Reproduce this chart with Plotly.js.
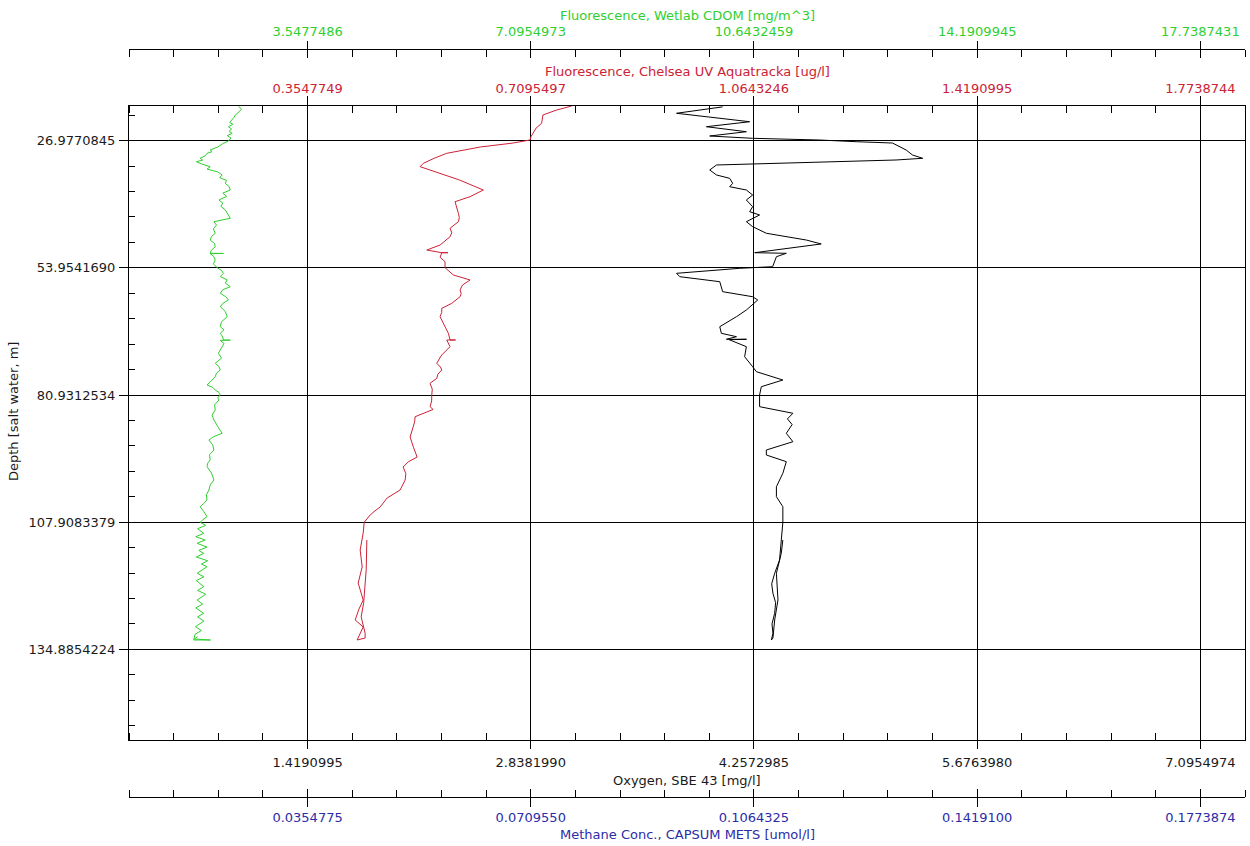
<!DOCTYPE html>
<html>
<head>
<meta charset="utf-8">
<script src="https://cdn.plot.ly/plotly-3.0.1.min.js"></script>
<style>
  html, body { margin: 0; padding: 0; background: #ffffff; }
  #chart { width: 1250px; height: 846px; }
</style>
</head>
<body>
<div id="chart"></div>
<script>
// ---------------- data ----------------
// Oxygen, SBE 43 [mg/l] vs depth [m]
const oxygenDepth = [19.80, 21.16, 22.95, 24.01, 25.07, 25.98, 26.47, 26.83, 27.19, 27.47, 28.95, 30.01, 30.71, 31.07,
  32.13, 33.19, 34.25, 34.96, 36.02, 36.74, 37.44, 38.50, 39.56, 40.98, 42.04, 42.74, 44.16, 45.22, 46.62, 48.05,
  48.89, 50.17, 50.74, 50.87, 51.59, 53.71, 54.05, 55.11, 55.83, 56.89, 59.01, 60.08, 60.78, 62.90, 64.32, 66.44,
  67.84, 68.56, 69.11, 69.11, 69.20, 70.68, 72.81, 74.93, 75.99, 77.75, 79.17, 80.93, 82.35, 83.41, 84.81, 86.00,
  87.20, 89.06, 90.84, 92.60, 93.66, 95.08, 97.54, 100.39, 102.51, 104.63, 107.94, 111.70, 115.94, 118.76, 121.00,
  123.00, 125.00, 127.25, 129.50, 131.49, 132.91, 132.50, 128.67, 124.42, 118.76, 114.52, 111.70];
const oxygenValue = [4.058, 3.765, 4.230, 3.955, 4.209, 3.976, 4.249, 4.674, 4.907, 5.138, 5.225, 5.265, 5.330, 5.161,
  4.019, 3.976, 4.019, 4.103, 4.122, 4.103, 4.209, 4.249, 4.209, 4.249, 4.230, 4.293, 4.209, 4.249, 4.336, 4.590,
  4.685, 4.376, 4.262, 4.463, 4.400, 4.376, 4.167, 3.765, 3.786, 4.040, 4.058, 4.249, 4.281, 4.209, 4.146, 4.040,
  4.050, 4.146, 4.082, 4.210, 4.100, 4.209, 4.198, 4.249, 4.273, 4.441, 4.304, 4.293, 4.293, 4.293, 4.505, 4.470,
  4.500, 4.463, 4.505, 4.336, 4.336, 4.463, 4.441, 4.400, 4.400, 4.441, 4.441, 4.431, 4.420, 4.389, 4.370,
  4.378, 4.395, 4.389, 4.372, 4.378, 4.368, 4.378, 4.389, 4.410, 4.400, 4.431, 4.441];

// Fluorescence, Chelsea UV Aquatracka [ug/l] vs depth [m]
const chelseaDepth = [19.62, 20.50, 21.52, 22.40, 23.29, 24.30, 25.34, 26.10, 26.83, 27.50, 28.30, 29.31, 29.65, 30.70,
  31.77, 32.49, 33.19, 35.30, 37.44, 38.86, 39.92, 41.00, 42.38, 43.30, 44.16, 45.56, 46.50, 47.35, 48.30, 49.11,
  50.17, 50.74, 50.74, 50.74, 51.72, 52.65, 53.92, 54.70, 55.47, 56.53, 57.60, 58.65, 59.40, 60.08, 61.48, 62.54,
  63.40, 64.32, 65.40, 66.44, 67.84, 69.26, 69.26, 69.26, 70.68, 71.60, 72.44, 73.30, 74.21, 75.00, 75.63, 76.50,
  77.39, 78.45, 79.70, 80.93, 82.20, 83.41, 84.00, 85.54, 86.60, 87.72, 88.80, 89.84, 92.00, 94.09, 95.10, 96.21,
  97.60, 98.97, 100.00, 101.09, 102.78, 103.70, 104.69, 105.50, 106.39, 107.94, 110.21, 113.82, 117.42, 120.82,
  124.43, 126.50, 128.67, 130.15, 132.91, 132.50, 131.49, 128.00, 125.00, 118.00, 111.70];
const chelseaValue = [0.7745, 0.7500, 0.7289, 0.7280, 0.7268, 0.7180, 0.7130, 0.7100, 0.7083, 0.6800, 0.6300, 0.5860,
  0.5760, 0.5560, 0.5389, 0.5337, 0.5495, 0.5960, 0.6341, 0.6130, 0.5892, 0.5920, 0.5945, 0.5960, 0.5945, 0.5813,
  0.5840, 0.5813, 0.5730, 0.5654, 0.5443, 0.5681, 0.5780, 0.5681, 0.5654, 0.5733, 0.5733, 0.5800, 0.5865, 0.6130,
  0.6010, 0.5972, 0.5990, 0.5972, 0.5840, 0.5681, 0.5680, 0.5654, 0.5700, 0.5733, 0.5786, 0.5813, 0.5900, 0.5760,
  0.5813, 0.5740, 0.5681, 0.5640, 0.5602, 0.5660, 0.5681, 0.5620, 0.5602, 0.5495, 0.5530, 0.5522, 0.5520, 0.5495,
  0.5543, 0.5257, 0.5250, 0.5226, 0.5200, 0.5178, 0.5230, 0.5289, 0.5150, 0.5067, 0.5110, 0.5099, 0.5060, 0.5019,
  0.4813, 0.4760, 0.4702, 0.4620, 0.4543, 0.4448, 0.4432, 0.4384, 0.4416, 0.4352, 0.4432, 0.4360, 0.4305, 0.4432,
  0.4336, 0.4463, 0.4463, 0.4400, 0.4440, 0.4480, 0.4490];

// Fluorescence, Wetlab CDOM [mg/m^3] vs depth [m]
const cdomDepth = [19.70, 20.30, 20.82, 21.20, 21.52, 22.00, 22.59, 23.10, 23.50, 24.01, 24.50, 25.00, 25.41, 25.90,
  26.40, 27.04, 27.60, 28.30, 28.95, 29.30, 29.65, 30.20, 30.71, 31.10, 31.43, 31.90, 32.49, 33.00, 33.60, 34.25,
  34.80, 35.40, 36.02, 36.70, 37.44, 38.10, 38.80, 39.56, 40.20, 40.90, 41.68, 42.50, 43.44, 44.16, 44.90, 45.70,
  46.62, 47.30, 48.05, 48.80, 49.47, 50.20, 50.87, 50.90, 50.95, 51.60, 52.29, 53.10, 53.92, 54.50, 55.11, 55.80,
  56.50, 57.20, 57.95, 58.60, 59.35, 60.10, 60.78, 61.50, 62.20, 63.20, 64.32, 65.40, 66.44, 67.10, 67.84, 68.60,
  69.26, 69.30, 69.35, 70.00, 70.68, 71.40, 72.08, 73.10, 74.21, 74.90, 75.63, 76.30, 77.05, 77.90, 78.81, 79.30,
  79.87, 80.40, 80.93, 81.50, 81.99, 83.00, 84.11, 85.20, 86.24, 87.60, 89.06, 89.80, 90.48, 91.50, 92.60, 93.60,
  94.72, 95.40, 96.14, 97.50, 98.97, 100.00, 101.09, 102.10, 103.21, 103.90, 104.63, 105.70, 106.75, 107.40,
  107.94, 108.60, 109.30, 110.28, 111.00, 111.70, 112.40, 113.20, 113.90, 114.52, 115.30, 116.10, 116.80, 117.36,
  118.76, 119.50, 120.30, 121.60, 122.40, 123.20, 124.43, 125.30, 126.10, 127.25, 128.00, 128.90, 130.09, 130.90,
  131.70, 132.91, 132.91, 132.70, 132.20];
const cdomValue = [2.45, 2.50, 2.46, 2.43, 2.40, 2.38, 2.35, 2.31, 2.36, 2.29, 2.34, 2.30, 2.35, 2.27,
  2.33, 2.29, 2.20, 2.12, 2.00, 2.03, 1.95, 1.92, 1.84, 1.88, 1.78, 1.86, 2.00, 1.95, 2.12, 2.19,
  2.15, 2.26, 2.24, 2.30, 2.32, 2.20, 2.26, 2.14, 2.20, 2.17, 2.24, 2.28, 2.32, 2.06, 2.10, 2.05,
  2.08, 2.02, 2.00, 2.07, 2.08, 2.02, 2.00, 2.21, 2.00, 2.06, 2.08, 2.05, 2.11, 2.18, 2.21, 2.16,
  2.27, 2.24, 2.32, 2.20, 2.16, 2.25, 2.29, 2.20, 2.16, 2.24, 2.27, 2.18, 2.16, 2.22, 2.16, 2.20,
  2.21, 2.32, 2.16, 2.22, 2.19, 2.15, 2.13, 2.18, 2.08, 2.14, 2.16, 2.10, 2.08, 2.02, 1.95, 2.04,
  2.08, 2.14, 2.16, 2.12, 2.14, 2.07, 2.08, 2.03, 2.06, 2.12, 2.19, 2.05, 1.98, 2.04, 2.06, 1.99,
  2.00, 1.96, 1.95, 2.02, 2.06, 2.00, 1.98, 1.94, 1.95, 1.90, 1.84, 1.90, 1.95, 1.88,
  1.844, 1.930, 1.800, 1.897, 1.770, 1.920, 1.792, 1.950, 1.820, 1.897, 1.780, 1.960, 1.860, 1.951,
  1.792, 1.900, 1.780, 1.897, 1.800, 1.930, 1.792, 1.880, 1.770, 1.897, 1.800, 1.900, 1.765, 1.860,
  1.760, 1.738, 2.003, 1.750, 1.800];

// ---------------- axis tick labels ----------------
const depthTicks = [26.9770845, 53.9541690, 80.9312534, 107.9083379, 134.8854224];
const depthTickText = ['26.9770845', '53.9541690', '80.9312534', '107.9083379', '134.8854224'];
const oxygenTicks = [1.4190995, 2.8381990, 4.2572985, 5.6763980, 7.0954974];
const oxygenTickText = ['1.4190995', '2.8381990', '4.2572985', '5.6763980', '7.0954974'];
const chelseaTicks = [0.3547749, 0.7095497, 1.0643246, 1.4190995, 1.7738744];
const chelseaTickText = ['0.3547749', '0.7095497', '1.0643246', '1.4190995', '1.7738744'];
const cdomTicks = [3.5477486, 7.0954973, 10.6432459, 14.1909945, 17.7387431];
const cdomTickText = ['3.5477486', '7.0954973', '10.6432459', '14.1909945', '17.7387431'];
const methaneTicks = [0.0354775, 0.0709550, 0.1064325, 0.1419100, 0.1773874];
const methaneTickText = ['0.0354775', '0.0709550', '0.1064325', '0.1419100', '0.1773874'];

// axis ranges
const depthRange = [154.13, 19.615];
const oxygenRange = [0.2838199, 7.3793173];
const chelseaRange = [0.0709550, 1.8448293];
const cdomRange = [0.7095497, 18.4482928];
const methaneRange = [0.0070955, 0.1844829];

// ---------------- styling ----------------
const FONT = 'DejaVu Sans, Arial, sans-serif';
const GREEN = '#2fcf2f';
const RED = '#cc2236';
const BLUE = '#2c2ca8';
const BLACK = '#000000';
const TEXT = '#1a1a1a';

// plot area spans 106..740 px vertically; margins t=b=40 -> paper height 766
function paperY(px) { return (806 - px) / 766; }
function paperX(px) { return (px - 129) / 1116; }
const yDom = [paperY(740), paperY(106)];

const traces = [
  { x: cdomValue, y: cdomDepth, xaxis: 'x3', yaxis: 'y', type: 'scatter', mode: 'lines',
    line: { color: GREEN, width: 1 }, name: 'CDOM' },
  { x: chelseaValue, y: chelseaDepth, xaxis: 'x2', yaxis: 'y', type: 'scatter', mode: 'lines',
    line: { color: RED, width: 1 }, name: 'Chelsea' },
  { x: oxygenValue, y: oxygenDepth, xaxis: 'x', yaxis: 'y', type: 'scatter', mode: 'lines',
    line: { color: BLACK, width: 1 }, name: 'Oxygen' },
  { x: [], y: [], xaxis: 'x4', yaxis: 'y', type: 'scatter', mode: 'lines', showlegend: false },
  { x: [], y: [], xaxis: 'x5', yaxis: 'y', type: 'scatter', mode: 'lines', showlegend: false },
  { x: [], y: [], xaxis: 'x6', yaxis: 'y', type: 'scatter', mode: 'lines', showlegend: false }
];

function baseX(extra) {
  return Object.assign({
    showgrid: false, zeroline: false, fixedrange: true,
    tickmode: 'array', tickcolor: BLACK, tickwidth: 1,
    linecolor: BLACK, linewidth: 1
  }, extra);
}

function titleNote(text, color, px) {
  return { text: text, xref: 'paper', yref: 'paper', x: 0.5, y: paperY(px),
    xanchor: 'center', yanchor: 'middle', showarrow: false,
    font: { family: FONT, size: 13, color: color } };
}

const layout = {
  width: 1250, height: 846,
  margin: { l: 129, r: 5, t: 40, b: 40, pad: 0 },
  paper_bgcolor: '#ffffff', plot_bgcolor: '#ffffff',
  showlegend: false,
  font: { family: FONT, size: 13, color: TEXT },
  yaxis: {
    domain: yDom, range: depthRange, autorange: false,
    tickmode: 'array', tickvals: depthTicks, ticktext: depthTickText,
    ticks: 'outside', ticklen: 9, tickcolor: BLACK, tickwidth: 1, ticklabelstandoff: 1,
    minor: { ticks: 'inside', ticklen: 6, dtick: 5.3954169, tick0: 0, tickcolor: BLACK, showgrid: false },
    showgrid: true, gridcolor: BLACK, gridwidth: 1,
    showline: true, linecolor: BLACK, linewidth: 1, mirror: true,
    zeroline: false, fixedrange: true,
    tickfont: { family: FONT, size: 13, color: TEXT }
  },
  xaxis: baseX({
    range: oxygenRange, anchor: 'y', side: 'bottom',
    tickvals: oxygenTicks, ticktext: oxygenTickText,
    ticks: 'outside', ticklen: 8, ticklabelstandoff: 2,
    minor: { ticks: 'inside', ticklen: 7, dtick: 0.2838199, tick0: 0, tickcolor: BLACK, showgrid: false },
    showgrid: true, gridcolor: BLACK, gridwidth: 1,
    showline: true, mirror: false,
    tickfont: { family: FONT, size: 13, color: TEXT }
  }),
  xaxis2: baseX({
    range: chelseaRange, anchor: 'y', overlaying: 'x', side: 'top',
    tickvals: chelseaTicks, ticktext: chelseaTickText,
    ticks: 'outside', ticklen: 9, ticklabelstandoff: -2,
    minor: { ticks: 'inside', ticklen: 7, dtick: 0.07095498, tick0: 0, tickcolor: BLACK, showgrid: false },
    showline: true,
    tickfont: { family: FONT, size: 13, color: RED }
  }),
  xaxis3: baseX({
    range: cdomRange, anchor: 'free', overlaying: 'x', side: 'top', position: paperY(49),
    tickvals: cdomTicks, ticktext: cdomTickText,
    ticks: 'outside', ticklen: 8, ticklabelstandoff: 0,
    minor: { ticks: 'inside', ticklen: 7, dtick: 0.70954972, tick0: 0, tickcolor: BLACK, showgrid: false },
    showline: true,
    tickfont: { family: FONT, size: 13, color: GREEN }
  }),
  xaxis5: baseX({
    range: cdomRange, anchor: 'free', overlaying: 'x', side: 'top', position: paperY(49),
    tickvals: [cdomRange[0]].concat(cdomTicks, [cdomRange[1]]),
    ticks: 'inside', ticklen: 8, showticklabels: false, showline: false
  }),
  xaxis4: baseX({
    range: methaneRange, anchor: 'free', overlaying: 'x', side: 'bottom', position: paperY(797),
    tickvals: methaneTicks, ticktext: methaneTickText,
    ticks: 'outside', ticklen: 9, ticklabelstandoff: -1,
    minor: { ticks: 'inside', ticklen: 7, dtick: 0.00709550, tick0: 0, tickcolor: BLACK, showgrid: false },
    showline: true,
    tickfont: { family: FONT, size: 13, color: BLUE }
  }),
  xaxis6: baseX({
    range: methaneRange, anchor: 'free', overlaying: 'x', side: 'bottom', position: paperY(797),
    tickvals: [methaneRange[0]].concat(methaneTicks, [methaneRange[1]]),
    ticks: 'inside', ticklen: 8, showticklabels: false, showline: false
  }),
  annotations: [
    titleNote('Fluorescence, Wetlab CDOM [mg/m^3]', GREEN, 15),
    titleNote('Fluorescence, Chelsea UV Aquatracka [ug/l]', RED, 72),
    titleNote('Oxygen, SBE 43 [mg/l]', TEXT, 780),
    titleNote('Methane Conc., CAPSUM METS [umol/l]', BLUE, 834),
    { text: 'Depth [salt water, m]', xref: 'paper', yref: 'paper', x: paperX(13), y: paperY(412),
      xanchor: 'center', yanchor: 'middle', textangle: -90, showarrow: false,
      font: { family: FONT, size: 13, color: TEXT } }
  ]
};

Plotly.newPlot('chart', traces, layout, { staticPlot: true, displayModeBar: false });
</script>
</body>
</html>
